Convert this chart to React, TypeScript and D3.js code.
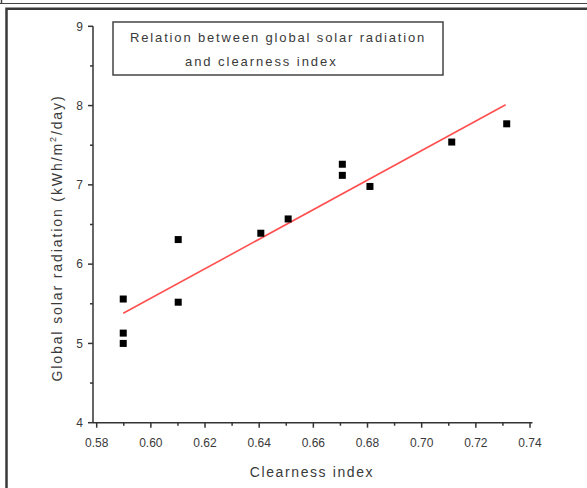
import React from "react";
import * as d3 from "d3";

const clearness = [0.5898, 0.5898, 0.5898, 0.6101, 0.6101, 0.6406, 0.6507, 0.6707, 0.6707, 0.6809, 0.7111, 0.7314];
const radiation = [5.56, 5.13, 5.0, 6.31, 5.52, 6.39, 6.57, 7.26, 7.12, 6.98, 7.54, 7.77];
const fitX = [0.5898, 0.731];
const fitY = [5.38, 8.01];
const xTicks = [0.58, 0.6, 0.62, 0.64, 0.66, 0.68, 0.7, 0.72, 0.74];
const xMinor = [0.59, 0.61, 0.63, 0.65, 0.67, 0.69, 0.71, 0.73];
const yTicks = [4, 5, 6, 7, 8, 9];
const yMinor = [4.5, 5.5, 6.5, 7.5, 8.5];
const titleLines = ["Relation between global solar radiation", "and clearness index"];

const W = 587;
const H = 488;
const FONT = "'Liberation Sans', Arial, sans-serif";
const TXT = "#3a3a3a";

export default function App() {
  const x = d3.scaleLinear().domain([0.58, 0.74]).range([96.7, 530]);
  const y = d3.scaleLinear().domain([4, 9]).range([422.7, 26.3]);
  const line = d3
    .line<number>()
    .x((_, i) => x(fitX[i]))
    .y((d) => y(d));
  const axX0 = 93;
  const axY0 = y(4);

  return (
    <div style={{ position: "fixed", left: 0, top: 0 }}>
      <svg width={W} height={H} style={{ display: "block", background: "#fff" }}>
        {/* frames */}
        <line x1={0} y1={3.5} x2={W} y2={3.5} stroke="#444" strokeWidth={1} />
        <line x1={1.5} y1={0} x2={1.5} y2={4} stroke="#444" strokeWidth={1.5} />
        <path d={`M${W},8.8 H6.5 V${H}`} fill="none" stroke="#3a3a3a" strokeWidth={2.5} />

        {/* title box */}
        <rect x={113} y={22} width={330} height={53} fill="#fff" stroke="#444" strokeWidth={1.5} />
        <text x={130} y={42} fontFamily={FONT} fontSize={13} letterSpacing={1.85} fill={TXT}>
          {titleLines[0]}
        </text>
        <text x={185} y={66} fontFamily={FONT} fontSize={13} letterSpacing={1.95} fill={TXT}>
          {titleLines[1]}
        </text>

        {/* axes */}
        <line x1={axX0} y1={y(9)} x2={axX0} y2={axY0} stroke="#333" strokeWidth={1.5} />
        <line x1={axX0} y1={axY0} x2={532.5} y2={axY0} stroke="#333" strokeWidth={1.5} />
        {xTicks.map((t) => (
          <g key={"xt" + t}>
            <line x1={x(t)} y1={axY0} x2={x(t)} y2={axY0 + 5} stroke="#333" strokeWidth={1.5} />
            <text x={x(t)} y={447} textAnchor="middle" fontFamily={FONT} fontSize={12} fill={TXT}>
              {t.toFixed(2)}
            </text>
          </g>
        ))}
        {xMinor.map((t) => (
          <line key={"xm" + t} x1={x(t)} y1={axY0} x2={x(t)} y2={axY0 + 3} stroke="#333" strokeWidth={1.5} />
        ))}
        {yTicks.map((t) => (
          <g key={"yt" + t}>
            <line x1={axX0 - 5} y1={y(t)} x2={axX0} y2={y(t)} stroke="#333" strokeWidth={1.5} />
            <text x={83} y={y(t) + 4.3} textAnchor="end" fontFamily={FONT} fontSize={12} fill={TXT}>
              {t}
            </text>
          </g>
        ))}
        {yMinor.map((t) => (
          <line key={"ym" + t} x1={axX0 - 3} y1={y(t)} x2={axX0} y2={y(t)} stroke="#333" strokeWidth={1.5} />
        ))}

        {/* axis titles */}
        <text x={312} y={477} textAnchor="middle" fontFamily={FONT} fontSize={14} letterSpacing={1.6} fill={TXT}>
          Clearness index
        </text>
        <text
          transform="translate(62,238) rotate(-90)"
          textAnchor="middle"
          fontFamily={FONT}
          fontSize={14}
          letterSpacing={1.9}
          fill={TXT}
        >
          Global solar radiation (kWh/m
          <tspan fontSize={9} dy={-6}>2</tspan>
          <tspan dy={6}>/day)</tspan>
        </text>

        {/* fit line */}
        <path d={line(fitY) || ""} fill="none" stroke="#ff5050" strokeWidth={1.6} />

        {/* points */}
        {clearness.map((cx, i) => (
          <rect key={"p" + i} x={x(cx) - 3.5} y={y(radiation[i]) - 3.5} width={7} height={7} fill="#000" />
        ))}
      </svg>
    </div>
  );
}
